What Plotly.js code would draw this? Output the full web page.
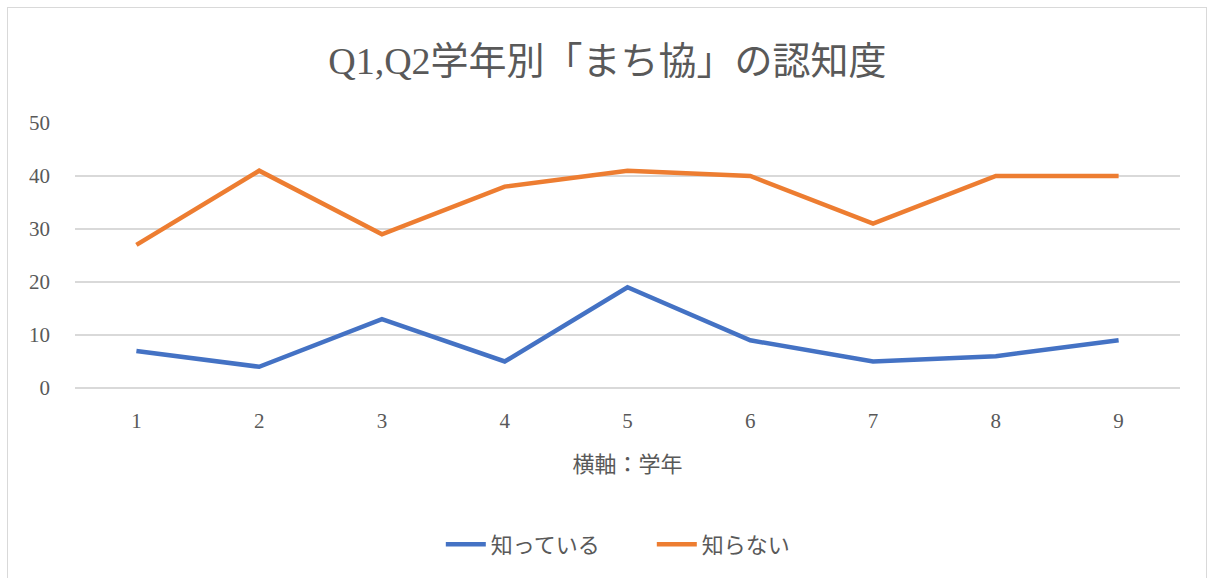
<!DOCTYPE html>
<html><head><meta charset="utf-8">
<script src="https://cdn.plot.ly/plotly-3.0.1.min.js"></script>
<style>
html,body{margin:0;padding:0;background:#fff;overflow:hidden;}
#frame{position:absolute;left:7px;top:7px;width:1200px;height:600px;border:1.5px solid #d9d9d9;box-sizing:border-box;pointer-events:none;z-index:2;}
#chart{position:absolute;left:0;top:0;width:1210px;height:578px;}
</style></head>
<body>
<div id="chart"></div><div id="frame"></div>
<script>
const grades = [1,2,3,4,5,6,7,8,9];
const knowName = "知っている";
const knowValues = [7,4,13,5,19,9,5,6,9];
const dontName = "知らない";
const dontValues = [27,41,29,38,41,40,31,40,40];
const titleText = "Q1,Q2学年別「まち協」の認知度";
const xTitle = "横軸：学年";
const yTicks = [0,10,20,30,40,50];

const fam = "'Liberation Serif', 'Noto Sans CJK JP', serif";
const txt = "#595959";
const traces = [
  {x: grades, y: knowValues, name: knowName, type: "scatter", mode: "lines",
   line: {color: "#4472C4", width: 4.5}},
  {x: grades, y: dontValues, name: dontName, type: "scatter", mode: "lines",
   line: {color: "#ED7D31", width: 4.5}}
];
const layout = {
  width: 1210, height: 578,
  margin: {l: 75, r: 30, t: 123, b: 190},
  paper_bgcolor: "#fff", plot_bgcolor: "#fff",
  font: {family: fam, color: txt, size: 21},
  title: {text: titleText, font: {family: fam, size: 38, color: txt}, x: 0.502, xanchor: "center", y: 0.895, yanchor: "middle", yref: "container"},
  xaxis: {range: [0.5, 9.5], tickvals: grades, ticktext: grades.map(String), showgrid: false, zeroline: false,
    showline: false, ticks: "", ticklabelstandoff: 18, tickfont: {size: 21},
    title: {text: xTitle, font: {family: fam, size: 22, color: txt}, standoff: 24}},
  yaxis: {range: [0, 50], tickvals: yTicks, showgrid: true, gridcolor: "#d9d9d9", gridwidth: 1.3,
    zeroline: true, zerolinecolor: "#d9d9d9", zerolinewidth: 1.3, showline: false, ticks: "", ticklabelstandoff: 24, tickfont: {size: 21}},
  showlegend: true,
  legend: {orientation: "h", x: 0.522, xanchor: "center", y: -0.59, yanchor: "middle",
    font: {family: fam, size: 22, color: txt}, itemwidth: 40, entrywidth: 156, entrywidthmode: "pixels", traceorder: "normal"}
};
Plotly.newPlot("chart", traces, layout, {displayModeBar: false, staticPlot: true});
</script>
</body></html>
